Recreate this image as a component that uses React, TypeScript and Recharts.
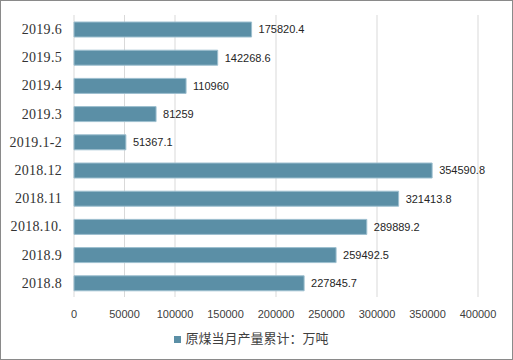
import React from 'react';
import { BarChart, Bar, XAxis, YAxis, CartesianGrid, Legend, LabelList } from 'recharts';

const months = ['2019.6', '2019.5', '2019.4', '2019.3', '2019.1-2', '2018.12', '2018.11', '2018.10.', '2018.9', '2018.8'];
const output = [175820.4, 142268.6, 110960, 81259, 51367.1, 354590.8, 321413.8, 289889.2, 259492.5, 227845.7];
const xTicks = [0, 50000, 100000, 150000, 200000, 250000, 300000, 350000, 400000];
const seriesName = '原煤当月产量累计：万吨';

const data = months.map((m, i) => ({ name: m, value: output[i] }));

export default function App() {
  return (
    <div
      style={{
        position: 'absolute',
        left: 0,
        top: 0,
        width: 513,
        height: 360,
        border: '1px solid #8a8a8a',
        boxSizing: 'border-box',
        background: '#fff',
      }}
    >
      <div style={{ position: 'absolute', left: -1, top: -1 }}>
        <BarChart
          width={513}
          height={360}
          data={data}
          layout="vertical"
          margin={{ top: 15, right: 35, left: 0, bottom: 20 }}
        >
          <CartesianGrid horizontal={false} stroke="#d9d9d9" />
          <XAxis
            type="number"
            domain={[0, 400000]}
            ticks={xTicks}
            axisLine={false}
            tickLine={false}
            tickMargin={7}
            height={24}
            tick={{ fontSize: 11, fill: '#404040', fontFamily: 'Liberation Sans' }}
          />
          <YAxis
            type="category"
            dataKey="name"
            width={74}
            axisLine={false}
            tickLine={false}
            tickMargin={6}
            tick={{ fontSize: 14, fill: '#333', fontFamily: 'Liberation Serif', letterSpacing: 0.3 }}
          />
          <Legend
            iconType="square"
            iconSize={7}
            wrapperStyle={{ left: 0, width: 513, top: 328, fontSize: 13, fontFamily: 'Noto Sans CJK SC' }}
            formatter={(v: string) => <span style={{ color: '#404040' }}>{v}</span>}
          />
          <Bar
            dataKey="value"
            name={seriesName}
            fill="#5b8fa6"
            stroke="#9dbfcf"
            strokeWidth={1}
            barSize={15}
            isAnimationActive={false}
          >
            <LabelList
              dataKey="value"
              position="right"
              offset={7}
              style={{ fontSize: 11, fill: '#262626', fontFamily: 'Liberation Sans' }}
            />
          </Bar>
        </BarChart>
      </div>
    </div>
  );
}
